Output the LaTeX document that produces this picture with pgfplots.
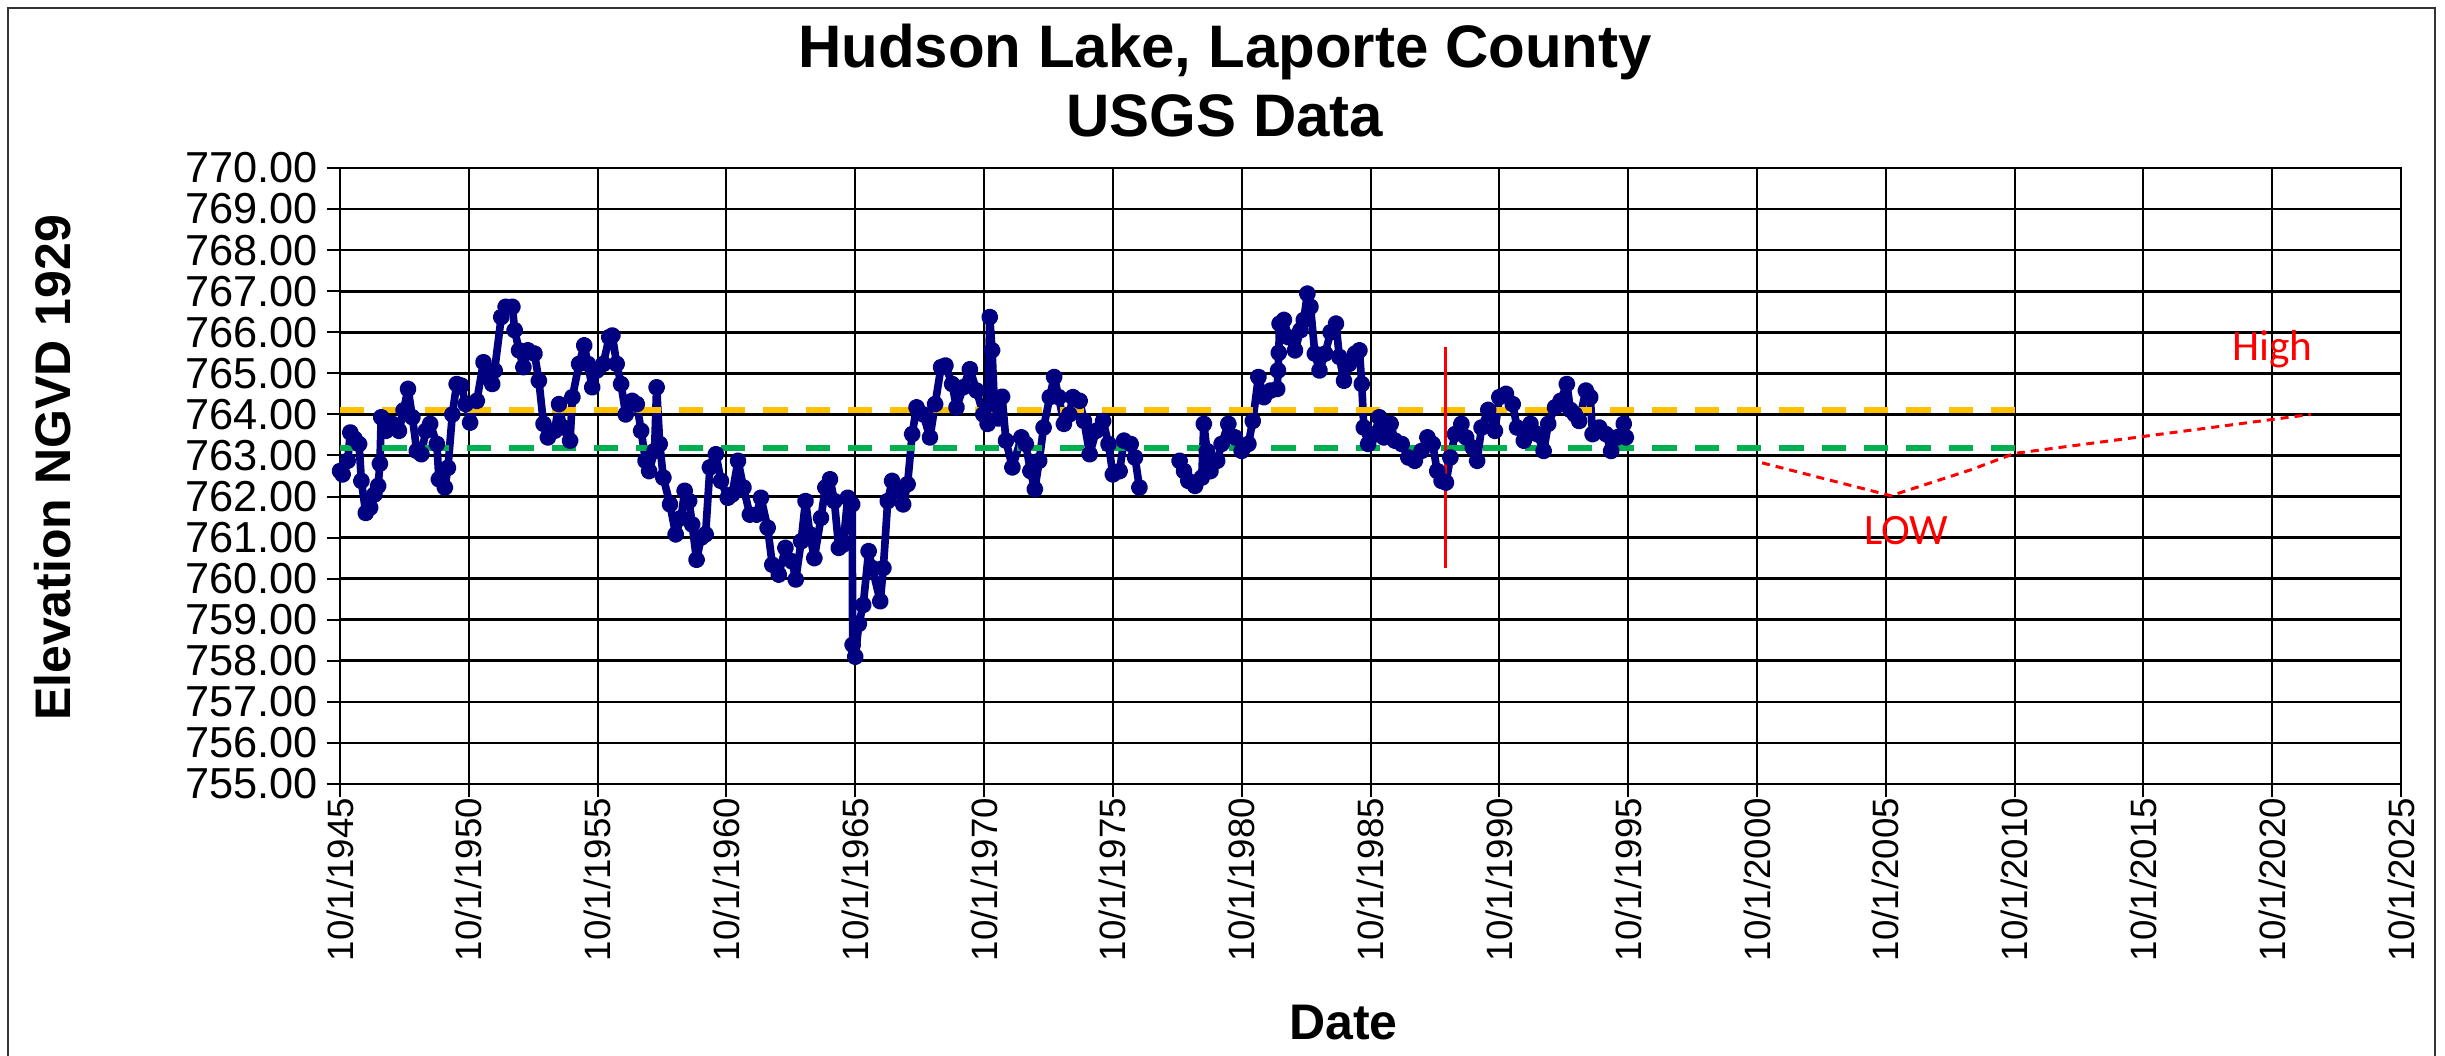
\documentclass[border=0pt]{standalone}
\usepackage{fontspec}
\setmainfont{Liberation Sans}
\newfontfamily\calibri{Carlito}
\usepackage{pgfplots}
\pgfplotsset{compat=1.18}
\usepackage{pgfplotstable}
\definecolor{navyc}{HTML}{000080}
\definecolor{orangec}{HTML}{FFC000}
\definecolor{greenc}{HTML}{00B050}
\definecolor{redc}{HTML}{FF0000}

\pgfplotstableread{
year elev
1945.00 762.62
1945.10 762.54
1945.30 762.87
1945.40 763.56
1945.57 763.40
1945.74 763.28
1945.83 762.38
1946.00 761.60
1946.17 761.73
1946.34 762.05
1946.48 762.26
1946.55 762.80
1946.60 763.93
1946.78 763.60
1947.03 763.77
1947.29 763.60
1947.47 764.10
1947.64 764.62
1947.81 763.93
1947.98 763.11
1948.16 763.03
1948.33 763.60
1948.50 763.77
1948.76 763.28
1948.84 762.42
1949.07 762.22
1949.19 762.70
1949.36 764.00
1949.53 764.74
1949.71 764.70
1949.88 764.25
1950.05 763.80
1950.31 764.33
1950.57 765.27
1950.74 764.90
1950.91 764.74
1951.00 765.07
1951.26 766.37
1951.43 766.62
1951.69 766.62
1951.78 766.05
1951.95 765.56
1952.12 765.15
1952.29 765.56
1952.55 765.48
1952.72 764.82
1952.90 763.77
1953.07 763.44
1953.33 763.60
1953.50 764.25
1953.67 763.68
1953.93 763.36
1954.02 764.42
1954.28 765.23
1954.48 765.68
1954.62 765.23
1954.79 764.66
1954.97 765.07
1955.22 765.23
1955.45 765.88
1955.57 765.92
1955.74 765.23
1955.91 764.74
1956.09 764.00
1956.34 764.33
1956.52 764.25
1956.69 763.60
1956.86 762.87
1957.00 762.62
1957.21 763.11
1957.29 764.66
1957.41 763.28
1957.55 762.46
1957.81 761.81
1958.03 761.08
1958.24 761.48
1958.38 762.14
1958.55 761.89
1958.67 761.32
1958.84 760.46
1959.02 761.00
1959.19 761.08
1959.36 762.71
1959.59 763.03
1959.79 762.38
1960.05 761.97
1960.22 762.05
1960.45 762.87
1960.66 762.22
1960.91 761.56
1961.17 761.56
1961.34 761.97
1961.60 761.24
1961.78 760.34
1962.03 760.10
1962.29 760.75
1962.55 760.42
1962.69 759.98
1962.90 760.91
1963.07 761.89
1963.24 761.08
1963.41 760.50
1963.67 761.48
1963.84 762.22
1964.02 762.42
1964.19 761.89
1964.36 760.75
1964.53 760.83
1964.71 761.97
1964.88 761.81
1964.90 758.39
1965.00 758.10
1965.14 758.90
1965.31 759.36
1965.52 760.67
1965.66 760.26
1965.97 759.45
1966.09 760.26
1966.26 761.89
1966.43 762.38
1966.60 762.14
1966.86 761.81
1967.03 762.30
1967.21 763.52
1967.38 764.17
1967.64 764.00
1967.90 763.44
1968.10 764.25
1968.33 765.15
1968.50 765.19
1968.76 764.74
1968.93 764.17
1969.19 764.66
1969.45 765.10
1969.71 764.58
1969.97 764.00
1970.14 763.77
1970.22 766.37
1970.31 765.56
1970.40 764.25
1970.55 763.90
1970.70 764.43
1970.85 763.36
1971.10 762.71
1971.45 763.44
1971.62 763.28
1971.80 762.62
1971.97 762.18
1972.14 762.87
1972.31 763.68
1972.55 764.42
1972.72 764.91
1972.90 764.42
1973.10 763.77
1973.31 764.00
1973.45 764.42
1973.71 764.33
1973.88 763.84
1974.10 763.03
1974.35 763.60
1974.62 763.84
1974.83 763.28
1975.00 762.54
1975.26 762.62
1975.43 763.36
1975.69 763.28
1975.86 762.95
1976.03 762.22
1976.80 nan
1977.59 762.87
1977.76 762.62
1977.93 762.38
1978.19 762.26
1978.45 762.46
1978.53 763.77
1978.65 763.11
1978.79 762.62
1979.05 762.87
1979.22 763.28
1979.48 763.77
1979.74 763.44
1980.00 763.11
1980.26 763.28
1980.43 763.84
1980.65 764.91
1980.86 764.42
1981.12 764.58
1981.38 764.62
1981.41 765.07
1981.44 765.50
1981.47 766.21
1981.64 766.30
1981.81 765.88
1982.07 765.56
1982.28 766.05
1982.41 766.30
1982.55 766.94
1982.67 766.62
1982.84 765.48
1983.02 765.07
1983.24 765.48
1983.45 766.00
1983.66 766.21
1983.79 765.40
1983.97 764.82
1984.17 765.23
1984.40 765.48
1984.57 765.56
1984.66 764.74
1984.74 763.68
1984.91 763.28
1985.17 763.52
1985.34 763.93
1985.52 763.44
1985.78 763.77
1985.95 763.36
1986.21 763.28
1986.47 762.95
1986.72 762.87
1986.98 763.11
1987.21 763.44
1987.41 763.28
1987.59 762.62
1987.76 762.38
1987.93 762.34
1988.10 762.95
1988.28 763.52
1988.53 763.77
1988.71 763.44
1988.97 763.19
1989.14 762.87
1989.31 763.68
1989.57 764.11
1989.83 763.60
1990.00 764.42
1990.26 764.50
1990.52 764.25
1990.69 763.68
1990.95 763.36
1991.21 763.77
1991.47 763.52
1991.72 763.11
1991.90 763.77
1992.16 764.17
1992.38 764.33
1992.62 764.74
1992.76 764.11
1992.93 764.00
1993.10 763.84
1993.36 764.58
1993.53 764.42
1993.62 763.52
1993.88 763.68
1994.14 763.52
1994.34 763.11
1994.57 763.44
1994.83 763.77
1994.91 763.44
}\lakedata

\begin{document}
\begin{tikzpicture}
\useasboundingbox (0,0) rectangle (733.5bp,316.8bp);
\fill[white] (0,0) rectangle (733.5bp,316.8bp);
\begin{axis}[
  at={(102bp,81.6bp)}, anchor=south west,
  scale only axis, width=618.3bp, height=184.8bp,
  xmin=1945, xmax=2025, ymin=755, ymax=770,
  xtick={1945,1950,...,2025},
  xticklabels={10/1/1945,10/1/1950,10/1/1955,10/1/1960,10/1/1965,10/1/1970,10/1/1975,10/1/1980,10/1/1985,10/1/1990,10/1/1995,10/1/2000,10/1/2005,10/1/2010,10/1/2015,10/1/2020,10/1/2025},
  ytick={755,756,...,770},
  xmajorgrids, ymajorgrids,
  x grid style={black, line width=0.6bp},
  y grid style={black, line width=0.8bp},
  axis line style={black, line width=0.6bp},
  tick align=outside, major tick length=4bp,
  xtick pos=left, ytick pos=left,
  tick style={black, line width=0.6bp},
  xticklabel style={rotate=90, anchor=east, inner sep=0pt, font=\fontsize{11bp}{11bp}\selectfont},
  yticklabel style={anchor=east, inner sep=0pt, xshift=-2.5bp, font=\fontsize{13bp}{13bp}\selectfont,
    /pgf/number format/fixed, /pgf/number format/fixed zerofill,
    /pgf/number format/precision=2, /pgf/number format/assume math mode=true},
  unbounded coords=jump,
]
\addplot[navyc, line width=2.3bp, line join=round, mark=*, mark size=1.4bp,
  mark options={fill=navyc, draw=navyc}] table[x=year, y=elev] {\lakedata};
\addplot[orangec, line width=1.8bp, dash pattern=on 7.3bp off 5.4bp]
  coordinates {(1945,764.11) (2010.15,764.11)};
\addplot[greenc, line width=1.8bp, dash pattern=on 7.3bp off 5.4bp]
  coordinates {(1945,763.18) (2010.15,763.18)};
\addplot[redc, line width=0.9bp] coordinates {(1987.93,760.26) (1987.93,765.64)};
\addplot[redc, line width=0.9bp, dash pattern=on 2.4bp off 1.8bp]
  coordinates {(2000.2,762.82) (2005.2,762.02) (2008.3,762.65) (2010.0,763.05) (2021.5,764.0)};
\node[redc, anchor=base, font=\calibri\fontsize{13bp}{13bp}\selectfont] at (axis cs:2020.0,765.31) {High};
\node[redc, anchor=base, font=\calibri\fontsize{13bp}{13bp}\selectfont] at (axis cs:2005.8,760.82) {LOW};
\end{axis}
\node[anchor=base, font=\bfseries\fontsize{18bp}{18bp}\selectfont] at (367.5bp,296.4bp) {Hudson Lake, Laporte County};
\node[anchor=base, font=\bfseries\fontsize{18bp}{18bp}\selectfont] at (367.5bp,275.7bp) {USGS Data};
\node[rotate=90, anchor=base, font=\bfseries\fontsize{15bp}{15bp}\selectfont] at (21bp,176.4bp) {Elevation NGVD 1929};
\node[anchor=base, font=\bfseries\fontsize{15bp}{15bp}\selectfont] at (403bp,5.1bp) {Date};
\draw[line width=0.8bp, black!80] (2.4bp,0) -- (2.4bp,314.4bp) -- (730.5bp,314.4bp) -- (730.5bp,0);
\end{tikzpicture}
\end{document}
